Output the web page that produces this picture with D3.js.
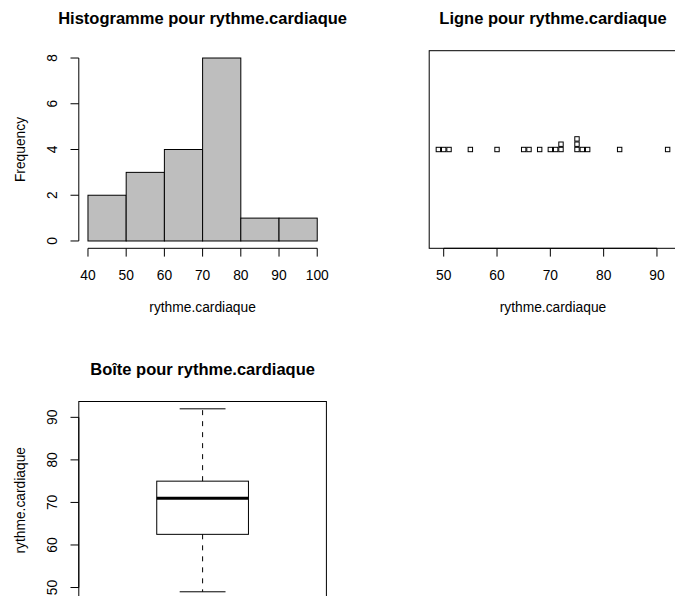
<!DOCTYPE html>
<html>
<head>
<meta charset="utf-8">
<script src="https://cdn.jsdelivr.net/npm/d3@7/dist/d3.min.js"></script>
<style>
  body { margin: 0; background: #fff; }
  text { font-family: "Liberation Sans", Arial, Helvetica, sans-serif; fill: #000; }
</style>
</head>
<body>
<svg id="fig" width="675" height="596"></svg>
<script>
// heart rate values
var rythme = [49, 50, 51, 55, 60, 65, 66, 68, 70, 71, 72, 72, 75, 75, 75, 76, 77, 83, 92];
var breaks = [40, 50, 60, 70, 80, 90, 100];
var varName = "rythme.cardiaque";
var titles = ["Histogramme pour ", "Ligne pour ", "Boîte pour "];

var panelW = 350.4, panelH = 350.8,
    mar = {left: 78.8, top: 50.7},
    plotW = 247.6, plotH = 197.6,
    tickLen = 8.3,
    fontAxis = "13.8px",
    fontMain = "16.5px";

var svg = d3.select("#fig");

// R extends axis ranges by 4% on each side
function rlim(a, b) {
    var d = (b - a) * 0.04;
    return [a - d, b + d];
}

function panel(col, row) {
    var p = svg.append("g")
        .attr("transform", "translate(" + (col * panelW) + "," + (row * panelH) + ")");
    p.append("text")
        .attr("x", mar.left + plotW / 2)
        .attr("y", 24)
        .attr("text-anchor", "middle")
        .style("font-size", fontMain)
        .style("font-weight", "bold")
        .text(titles[col + row * 2] + varName);
    return p.append("g")
        .attr("transform", "translate(" + mar.left + "," + mar.top + ")");
}

function bottomAxis(g, scale, ticks, label) {
    var ax = g.append("g").attr("transform", "translate(0," + plotH + ")");
    ax.append("line")
        .attr("x1", scale(ticks[0])).attr("x2", scale(ticks[ticks.length - 1]))
        .attr("stroke", "#000");
    ax.selectAll(".tk").data(ticks).enter().append("line")
        .attr("x1", d => scale(d)).attr("x2", d => scale(d))
        .attr("y1", 0).attr("y2", tickLen)
        .attr("stroke", "#000");
    ax.selectAll(".lb").data(ticks).enter().append("text")
        .attr("x", d => scale(d))
        .attr("y", 21.7)
        .attr("dy", "0.71em")
        .attr("text-anchor", "middle")
        .style("font-size", fontAxis)
        .text(d => d);
    ax.append("text")
        .attr("x", plotW / 2)
        .attr("y", 312 - mar.top - plotH)
        .attr("text-anchor", "middle")
        .style("font-size", fontAxis)
        .text(label);
}

function leftAxis(g, scale, ticks, label) {
    var ax = g.append("g");
    ax.append("line")
        .attr("y1", scale(ticks[0])).attr("y2", scale(ticks[ticks.length - 1]))
        .attr("stroke", "#000");
    ax.selectAll(".tk").data(ticks).enter().append("line")
        .attr("y1", d => scale(d)).attr("y2", d => scale(d))
        .attr("x1", 0).attr("x2", -tickLen)
        .attr("stroke", "#000");
    ax.selectAll(".lb").data(ticks).enter().append("text")
        .attr("transform", d => "translate(-22,"  + scale(d) + ") rotate(-90)")
        .attr("text-anchor", "middle")
        .style("font-size", fontAxis)
        .text(d => d);
    ax.append("text")
        .attr("transform", "translate(" + (25 - mar.left) + "," + (plotH / 2) + ") rotate(-90)")
        .attr("text-anchor", "middle")
        .style("font-size", fontAxis)
        .text(label);
}

// ---- histogram (right-closed bins, like R)
var counts = breaks.slice(1).map(function(b, i) {
    return rythme.filter(function(v) {
        return (v > breaks[i] || (i === 0 && v === breaks[0])) && v <= b;
    }).length;
});

var h = panel(0, 0);
var hx = d3.scaleLinear().domain(rlim(breaks[0], breaks[breaks.length - 1])).range([0, plotW]),
    hy = d3.scaleLinear().domain(rlim(0, d3.max(counts))).range([plotH, 0]);

h.selectAll(".bar").data(counts).enter().append("rect")
    .attr("x", (d, i) => hx(breaks[i]))
    .attr("width", (d, i) => hx(breaks[i + 1]) - hx(breaks[i]))
    .attr("y", d => hy(d))
    .attr("height", d => hy(0) - hy(d))
    .attr("fill", "#bebebe")
    .attr("stroke", "#000");

bottomAxis(h, hx, hx.ticks(7), varName);
leftAxis(h, hy, hy.ticks(5), "Frequency");

// ---- strip chart, stacked
var s = panel(1, 0);
var sx = d3.scaleLinear().domain(rlim(d3.min(rythme), d3.max(rythme))).range([0, plotW]),
    sy = d3.scaleLinear().domain([0.4, 1.6]).range([plotH, 0]);
var stackStep = 5.3, sq = 4.4;

var seen = {};
var pts = rythme.map(function(v) {
    seen[v] = (seen[v] || 0) + 1;
    return {v: v, k: seen[v] - 1};
});

s.append("rect")
    .attr("width", plotW).attr("height", plotH)
    .attr("fill", "none").attr("stroke", "#000");

s.selectAll(".pt").data(pts).enter().append("rect")
    .attr("x", d => sx(d.v) - sq / 2)
    .attr("y", d => sy(1) - d.k * stackStep - sq / 2)
    .attr("width", sq).attr("height", sq)
    .attr("fill", "none").attr("stroke", "#000");

bottomAxis(s, sx, sx.ticks(5), varName);

// ---- box plot
function fivenum(arr) {
    var x = arr.slice().sort(d3.ascending), n = x.length;
    var n4 = Math.floor((n + 3) / 2) / 2;
    var d = [1, n4, (n + 1) / 2, n + 1 - n4, n];
    return d.map(function(p) {
        return 0.5 * (x[Math.floor(p) - 1] + x[Math.ceil(p) - 1]);
    });
}
var st = fivenum(rythme);

var b = panel(0, 1);
var bx = d3.scaleLinear().domain(rlim(0.5, 1.5)).range([0, plotW]),
    by = d3.scaleLinear().domain(rlim(d3.min(rythme), d3.max(rythme))).range([plotH, 0]);

// whiskers
b.selectAll(".wh").data([[st[3], st[4]], [st[1], st[0]]]).enter().append("line")
    .attr("x1", bx(1)).attr("x2", bx(1))
    .attr("y1", d => by(d[0])).attr("y2", d => by(d[1]))
    .attr("stroke", "#000")
    .attr("stroke-dasharray", "5,6");
// staples
b.selectAll(".stp").data([st[0], st[4]]).enter().append("line")
    .attr("x1", bx(0.9)).attr("x2", bx(1.1))
    .attr("y1", d => by(d)).attr("y2", d => by(d))
    .attr("stroke", "#000");
// box
b.append("rect")
    .attr("x", bx(0.8)).attr("width", bx(1.2) - bx(0.8))
    .attr("y", by(st[3])).attr("height", by(st[1]) - by(st[3]))
    .attr("fill", "none").attr("stroke", "#000");
// median
b.append("line")
    .attr("x1", bx(0.8)).attr("x2", bx(1.2))
    .attr("y1", by(st[2])).attr("y2", by(st[2]))
    .attr("stroke", "#000").attr("stroke-width", 3);

b.append("rect")
    .attr("width", plotW).attr("height", plotH)
    .attr("fill", "none").attr("stroke", "#000");

leftAxis(b, by, by.ticks(5), varName);
</script>
</body>
</html>
